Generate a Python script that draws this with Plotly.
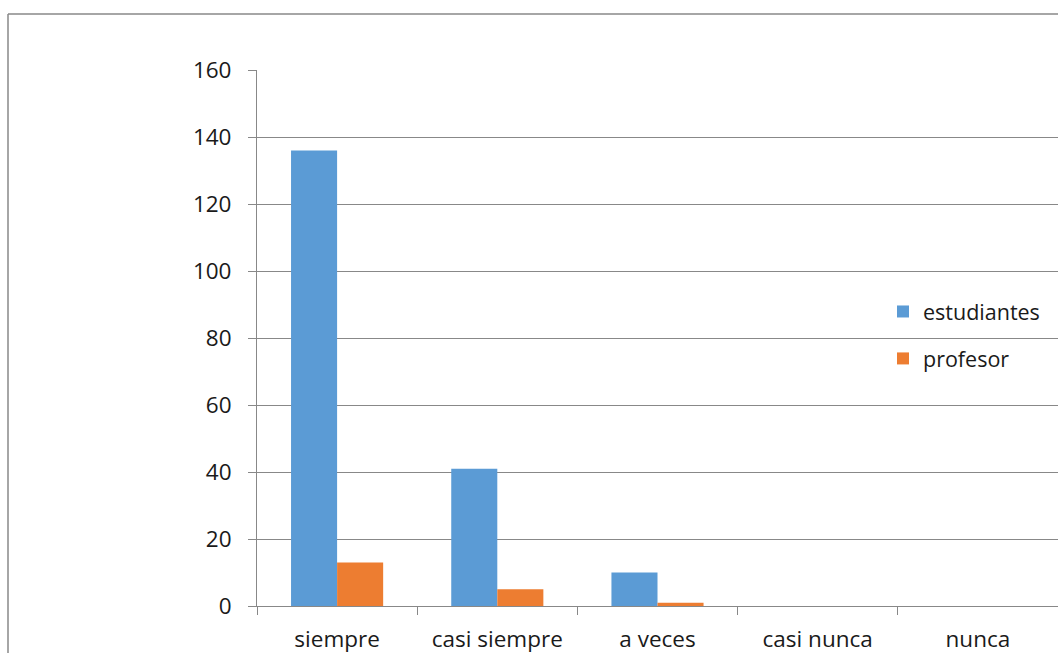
import plotly.graph_objects as go

# Response categories and counts per group
categorias = ["siempre", "casi siempre", "a veces", "casi nunca", "nunca"]
estudiantes = [136, 41, 10, 0, 0]
profesor = [13, 5, 1, 0, 0]
y_ticks = [0, 20, 40, 60, 80, 100, 120, 140, 160]

AZUL = "#5B9BD5"
NARANJA = "#ED7D31"
GRIS = "#888888"
FUENTE = "'Open Sans', Lato, sans-serif"

fig = go.Figure()
fig.add_trace(go.Bar(x=categorias, y=estudiantes, name="estudiantes",
                     marker=dict(color=AZUL, line=dict(width=0)),
                     legendgroup="a"))
fig.add_trace(go.Bar(x=categorias, y=profesor, name="profesor",
                     marker=dict(color=NARANJA, line=dict(width=0)),
                     legendgroup="b"))

W, H = 1058, 653
L, R, T, B = 257, 0, 70, 47
pw, ph = W - L - R, H - T - B

def px_x(x):
    return (x - L) / pw

def px_y(y):
    return (H - B - y) / ph

fig.update_layout(
    width=W, height=H,
    margin=dict(l=L, r=R, t=T, b=B, pad=0),
    paper_bgcolor="white", plot_bgcolor="white",
    barmode="group", bargap=0.425, bargroupgap=0,
    font=dict(family=FUENTE, size=22.5, color="#1a1a1a"),
    showlegend=True,
    legend=dict(x=px_x(883), y=px_y(291), xanchor="left", yanchor="top",
                bgcolor="rgba(0,0,0,0)", font=dict(size=21.5),
                traceorder="grouped", tracegroupgap=16,
                itemwidth=30),
    xaxis=dict(showgrid=False, showline=True, linecolor=GRIS, linewidth=1,
               ticks="outside", ticklen=8, tickcolor=GRIS,
               tickson="boundaries", ticklabelstandoff=13,
               range=[-0.5, 4.5]),
    yaxis=dict(range=[0, 160], tickvals=y_ticks, showgrid=True,
               gridcolor=GRIS, gridwidth=1, showline=True, linecolor=GRIS,
               linewidth=1, ticks="outside", ticklen=8, tickcolor=GRIS,
               ticklabelstandoff=12, zeroline=False),
    shapes=[
        dict(type="line", xref="paper", yref="paper",
             x0=px_x(8), x1=px_x(1058), y0=px_y(14), y1=px_y(14),
             line=dict(color=GRIS, width=1.5)),
        dict(type="line", xref="paper", yref="paper",
             x0=px_x(8), x1=px_x(8), y0=px_y(14), y1=px_y(660),
             line=dict(color=GRIS, width=1.5)),
    ],
)

fig.write_html("out.html")
